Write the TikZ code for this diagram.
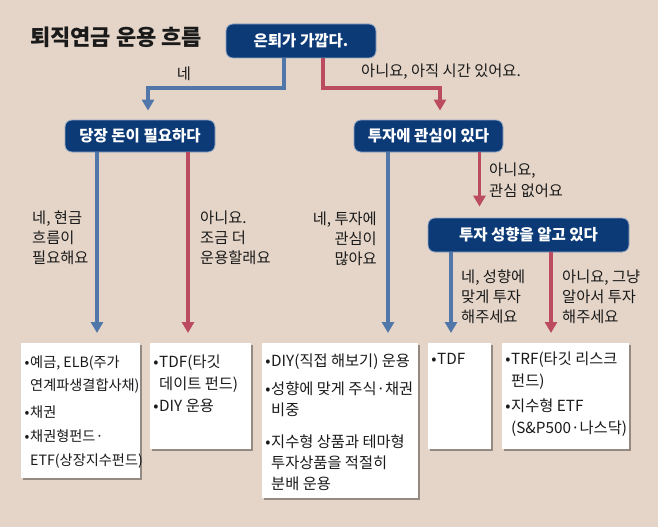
\documentclass[tikz,border=0pt]{standalone}
\usepackage{fontspec}
\setmainfont{Noto Sans CJK KR}
\usetikzlibrary{arrows.meta,shadows}

\definecolor{bgtan}{HTML}{E4D5C8}
\definecolor{navy}{HTML}{0C3A77}
\definecolor{yesblue}{HTML}{5176A9}
\definecolor{nored}{HTML}{BB4B60}
\definecolor{ink}{HTML}{1A1A1A}

% one bullet item with hanging indent
\newcommand{\bitem}[1]{{\hangindent=6.5pt\hangafter=1\noindent\makebox[6.5pt][c]{\makebox[0pt][c]{•}}#1\par}}
\newcommand{\bgap}[1]{\vspace{#1}}

\tikzset{
  question/.style={fill=navy, draw=white!55!navy, line width=0.8pt, rounded corners=7pt,
    text=white, font=\bfseries\fontsize{15.5}{15.5}\selectfont, inner sep=0pt},
  yesline/.style={draw=yesblue, line width=3.5pt, -{Triangle[width=12pt,length=11pt]}},
  noline/.style={draw=nored, line width=3.5pt, -{Triangle[width=12pt,length=11pt]}},
  answer/.style={text=ink, font=\fontsize{15.3}{20}\selectfont, inner sep=0pt},
  result/.style={fill=white, anchor=north west, inner xsep=2.5pt, inner ysep=0pt, text=ink,
    font=\fontsize{15.3}{22}\selectfont,
    drop shadow={shadow xshift=2pt, shadow yshift=-2pt, fill=black, opacity=0.35}}
}

\begin{document}
\begin{tikzpicture}[x=1pt,y=-1pt]
  \useasboundingbox (0,0) rectangle (658,527);
  \fill[bgtan] (0,0) rectangle (658,527);

  % title
  \node[anchor=west, text=ink, font=\bfseries\fontsize{22}{22}\selectfont, inner sep=0pt] (title) at (30,37) {퇴직연금 운용 흐름};

  % questions
  \node[question, minimum width=150pt, minimum height=34pt] (retire) at (301,41) {은퇴가 가깝다.};
  \node[question, minimum width=150pt, minimum height=32pt] (need) at (140,136) {당장 돈이 필요하다};
  \node[question, minimum width=149pt, minimum height=32pt] (invest) at (428.5,136) {투자에 관심이 있다};
  \node[question, minimum width=201pt, minimum height=34pt] (know) at (528.5,235) {투자 성향을 알고 있다};

  % results
  \node[result, font=\fontsize{14.2}{23.5}\selectfont] (cash) at (21,343) {\begin{minipage}[t][135pt][t]{114pt}\vspace*{12.5pt}%
    \bitem{예금, ELB(주가\\연계파생결합사채)}\bgap{3pt}
    \bitem{채권}\bgap{1pt}
    \bitem{채권형펀드·\\ETF(상장지수펀드)}\end{minipage}};
  \node[result] (tdfdiy) at (150,343) {\begin{minipage}[t][106pt][t]{96pt}\vspace*{12pt}%
    \bitem{TDF(타깃\\데이트 펀드)}
    \bitem{DIY 운용}\end{minipage}};
  \node[result, font=\fontsize{15.3}{21}\selectfont] (diy) at (262,343) {\begin{minipage}[t][155pt][t]{151pt}\vspace*{10.5pt}%
    \bitem{DIY(직접 해보기) 운용}\bgap{7pt}
    \bitem{성향에 맞게 주식·채권\\비중}\bgap{11pt}
    \bitem{지수형 상품과 테마형\\투자상품을 적절히\\분배 운용}\end{minipage}};
  \node[result] (tdf) at (428,343) {\begin{minipage}[t][106pt][t]{58pt}\vspace*{10pt}%
    \bitem{TDF}\end{minipage}};
  \node[result] (trf) at (502,343) {\begin{minipage}[t][106pt][t]{122pt}\vspace*{8.5pt}%
    \bitem{TRF(타깃 리스크\\펀드)}\bgap{3pt}
    \bitem{지수형 ETF\\(S\&P500·나스닥)}\end{minipage}};

  % connectors
  \coordinate (yesturn) at (148,88);
  \coordinate (noturn) at (440,88);
  \draw[yesline, shorten >=9pt] ([xshift=-17pt]retire.south) |- (yesturn) -- (yesturn |- need.north);
  \draw[noline, shorten >=9pt] ([xshift=22pt]retire.south) |- (noturn) -- (noturn |- invest.north);
  \draw[yesline, shorten >=10pt] ([xshift=-43pt]need.south) -- ([xshift=-43pt]need.south |- cash.north);
  \draw[noline, shorten >=10pt] ([xshift=48pt]need.south) -- ([xshift=48pt]need.south |- tdfdiy.north);
  \draw[yesline, shorten >=10pt] ([xshift=-40.5pt]invest.south) -- ([xshift=-40.5pt]invest.south |- diy.north);
  \draw[noline, shorten >=11pt] ([xshift=51pt]invest.south) -- ([xshift=51pt]invest.south |- know.north);
  \draw[yesline, shorten >=10pt] ([xshift=-77.5pt]know.south) -- ([xshift=-77.5pt]know.south |- tdf.north);
  \draw[noline, shorten >=10pt] ([xshift=22.5pt]know.south) -- ([xshift=22.5pt]know.south |- trf.north);

  % answers
  \node[answer] (yesnear) at (184,74) {네};
  \node[answer, anchor=west] (nonear) at (361,72) {아니요, 아직 시간 있어요.};
  \node[answer, anchor=north west, align=left] (yescash) at (32,210.5) {네, 현금\\흐름이\\필요해요};
  \node[answer, anchor=north west, align=left] (nocash) at (200,210.5) {아니요.\\조금 더\\운용할래요};
  \node[answer, anchor=north east, align=right] (yesinvest) at (377,211.5) {네, 투자에\\관심이\\많아요};
  \node[answer, anchor=north west, align=left, font=\fontsize{15.3}{21}\selectfont] (noinvest) at (489,162.5) {아니요,\\관심 없어요};
  \node[answer, anchor=north west, align=left] (yesknow) at (461,269.5) {네, 성향에\\맞게 투자\\해주세요};
  \node[answer, anchor=north west, align=left] (noknow) at (562,269.5) {아니요, 그냥\\알아서 투자\\해주세요};
\end{tikzpicture}
\end{document}
